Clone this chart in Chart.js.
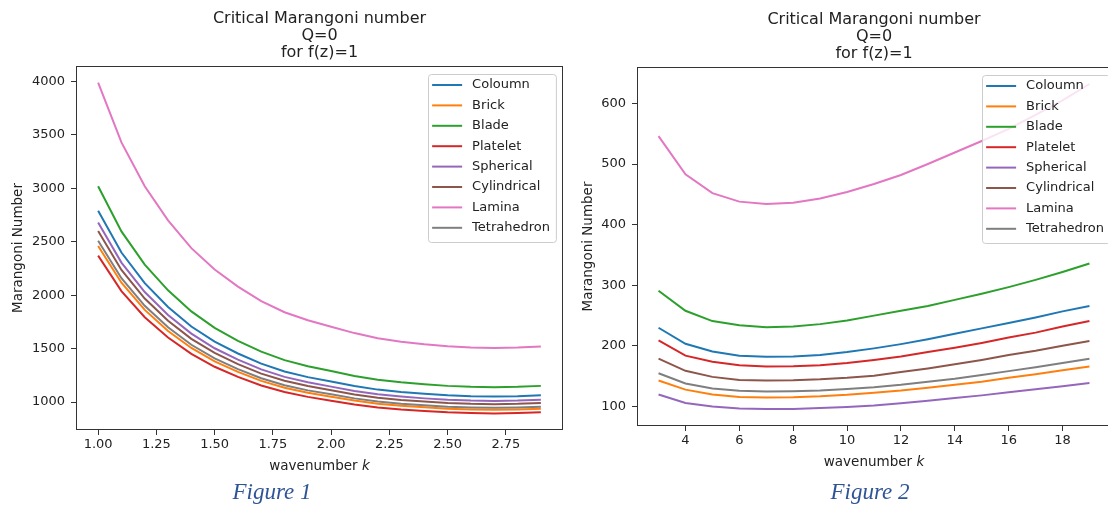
<!DOCTYPE html>
<html>
<head>
<meta charset="utf-8">
<script src="https://cdn.jsdelivr.net/npm/chart.js@4.4.0/dist/chart.umd.min.js"></script>
<style>
  html, body { margin: 0; padding: 0; background: #fff; }
  body { width: 1108px; height: 505px; overflow: hidden; position: relative; }
  .fig { position: absolute; top: 0; }
  .caption {
    position: absolute; top: 477px; width: 200px; text-align: center;
    font-family: "Liberation Serif", serif; font-style: italic; font-size: 23px;
    line-height: 30px; color: #2F5496;
  }
</style>
</head>
<body>
<div class="fig" style="left:0;width:580px;height:480px"><canvas id="fig1" width="580" height="480"></canvas></div>
<div class="fig" style="left:580px;width:540px;height:480px"><canvas id="fig2" width="540" height="480"></canvas></div>
<div class="caption" style="left:172px">Figure 1</div>
<div class="caption" style="left:770px">Figure 2</div>
<script>
// ---- data ----
const seriesNames = ['Coloumn', 'Brick', 'Blade', 'Platelet', 'Spherical', 'Cylindrical', 'Lamina', 'Tetrahedron'];
const seriesColors = ['#1f77b4', '#ff7f0e', '#2ca02c', '#d62728', '#9467bd', '#8c564b', '#e377c2', '#7f7f7f'];
const titleLines = ['Critical Marangoni number', 'Q=0', 'for f(z)=1'];

// Figure 1: k = 1.0 .. 2.9
const kFig1 = [1.0, 1.1, 1.2, 1.3, 1.4, 1.5, 1.6, 1.7, 1.8, 1.9, 2.0, 2.1, 2.2, 2.3, 2.4, 2.5, 2.6, 2.7, 2.8, 2.9];
const fig1Coloumn = [2790, 2399, 2112, 1889, 1707, 1565, 1454, 1359, 1286, 1233, 1191, 1149, 1116, 1094, 1077, 1063, 1055, 1052, 1055, 1063];
const fig1Brick = [2460, 2116, 1862, 1665, 1506, 1380, 1282, 1198, 1134, 1087, 1050, 1014, 984, 964, 950, 937, 930, 927, 930, 937];
const fig1Blade = [3020, 2597, 2286, 2045, 1848, 1694, 1573, 1471, 1392, 1335, 1290, 1244, 1208, 1184, 1166, 1151, 1142, 1139, 1142, 1151];
const fig1Platelet = [2370, 2038, 1794, 1604, 1450, 1330, 1235, 1154, 1093, 1048, 1012, 976, 948, 929, 915, 903, 896, 893, 896, 903];
const fig1Spherical = [2680, 2305, 2029, 1814, 1640, 1503, 1396, 1305, 1235, 1185, 1144, 1104, 1072, 1051, 1034, 1021, 1013, 1010, 1013, 1021];
const fig1Cylindrical = [2600, 2236, 1968, 1760, 1591, 1459, 1355, 1266, 1199, 1149, 1110, 1071, 1040, 1019, 1004, 991, 983, 980, 983, 991];
const fig1Lamina = [3990, 3430, 3020, 2700, 2440, 2240, 2080, 1945, 1840, 1765, 1705, 1645, 1597, 1565, 1540, 1522, 1510, 1506, 1510, 1520];
const fig1Tetrahedron = [2510, 2159, 1900, 1699, 1536, 1408, 1308, 1222, 1157, 1109, 1072, 1034, 1004, 984, 969, 956, 949, 946, 949, 956];
const fig1XTicks = [1.00, 1.25, 1.50, 1.75, 2.00, 2.25, 2.50, 2.75];
const fig1YTicks = [1000, 1500, 2000, 2500, 3000, 3500, 4000];

// Figure 2: k = 3 .. 19
const kFig2 = [3, 4, 5, 6, 7, 8, 9, 10, 11, 12, 13, 14, 15, 16, 17, 18, 19];
const fig2Coloumn = [230, 203.5, 191, 184, 182, 182.5, 185, 190, 196, 203, 211, 220, 229, 238, 247, 257, 266];
const fig2Brick = [143, 128, 120, 116, 115, 115.5, 117, 119.5, 123, 126.5, 131, 136, 141, 147.5, 153.5, 160, 166];
const fig2Blade = [291, 258, 241, 234, 231, 232, 236, 242, 250, 258, 266, 276, 286, 297, 309, 322, 336];
const fig2Platelet = [209, 184, 174, 168, 166, 166.5, 168, 172, 177, 182.5, 190, 197, 205, 214, 222, 232, 241];
const fig2Spherical = [120, 106, 100, 97, 96, 96, 97.5, 99.5, 102, 105.5, 109.5, 114, 118.5, 123.5, 128.5, 133.5, 139];
const fig2Cylindrical = [179, 159, 149, 144, 143, 143.5, 145, 147.5, 151, 157, 163, 170, 177, 185, 192, 200.5, 208];
const fig2Lamina = [546, 483, 452, 438, 434, 436, 443, 454, 467, 482, 500, 519, 538, 558, 581, 605, 632];
const fig2Tetrahedron = [155, 138, 130, 126, 125, 125.5, 126.5, 129, 132, 136, 141, 146, 152, 158.5, 165, 172, 179];
const fig2XTicks = [4, 6, 8, 10, 12, 14, 16, 18];
const fig2YTicks = [100, 200, 300, 400, 500, 600];

// ---- styling ----
const TEXT = '#222';
const SPINE = '#333';
const FONT = '"DejaVu Sans", sans-serif';

const decorations = {
    id: 'decorations',
    afterDatasetsDraw(chart, args, opts) {
        const { ctx, chartArea: a } = chart;
        ctx.save();

        // frame
        ctx.strokeStyle = SPINE;
        ctx.lineWidth = 1;
        ctx.strokeRect(Math.round(a.left) + 0.5, Math.round(a.top) + 0.5,
            Math.round(a.right - a.left) - 1, Math.round(a.bottom - a.top) - 1);

        const cx = (a.left + a.right) / 2;

        // title
        ctx.fillStyle = TEXT;
        ctx.font = '16px ' + FONT;
        ctx.textAlign = 'center';
        ctx.textBaseline = 'middle';
        titleLines.forEach((t, i) => ctx.fillText(t, cx, a.top - 47 + i * 17));

        // x label with italic k
        ctx.font = '13.5px ' + FONT;
        const w1 = ctx.measureText('wavenumber ').width;
        ctx.font = 'italic 13.5px ' + FONT;
        const w2 = ctx.measureText('k').width;
        const x0 = cx - (w1 + w2) / 2;
        const ly = a.bottom + 36;
        ctx.textAlign = 'left';
        ctx.font = '13.5px ' + FONT;
        ctx.fillText('wavenumber ', x0, ly);
        ctx.font = 'italic 13.5px ' + FONT;
        ctx.fillText('k', x0 + w1, ly);

        // legend
        ctx.font = '13px ' + FONT;
        let tw = 0;
        seriesNames.forEach(n => { tw = Math.max(tw, ctx.measureText(n).width); });
        const bw = 44 + tw + 6;
        const bh = 168;
        const bx = a.right - opts.rightGap - bw;
        const by = a.top + 8;
        ctx.beginPath();
        ctx.roundRect(Math.round(bx) + 0.5, Math.round(by) + 0.5, bw, bh, 3);
        ctx.fillStyle = 'rgba(255,255,255,0.8)';
        ctx.fill();
        ctx.strokeStyle = '#cccccc';
        ctx.stroke();
        ctx.textBaseline = 'middle';
        seriesNames.forEach((n, i) => {
            const y = by + 11 + i * 20.4;
            ctx.strokeStyle = seriesColors[i];
            ctx.lineWidth = 2;
            ctx.beginPath();
            ctx.moveTo(bx + 4, y);
            ctx.lineTo(bx + 34, y);
            ctx.stroke();
            ctx.fillStyle = TEXT;
            ctx.fillText(n, bx + 44, y);
        });
        ctx.restore();
    }
};

function makeChart(canvasId, cfg) {
    const datasets = cfg.series.map((vals, i) => ({
        label: seriesNames[i],
        data: cfg.k.map((k, j) => ({ x: k, y: vals[j] })),
        borderColor: seriesColors[i],
        backgroundColor: seriesColors[i],
        borderWidth: 2,
        pointRadius: 0,
        tension: 0,
        fill: false,
        order: seriesNames.length - i
    }));

    return new Chart(document.getElementById(canvasId), {
        type: 'line',
        data: { datasets },
        plugins: [decorations],
        options: {
            responsive: false,
            animation: false,
            events: [],
            layout: { padding: { top: cfg.top, right: cfg.padRight, left: 0, bottom: 0 } },
            plugins: {
                legend: { display: false },
                tooltip: { enabled: false },
                decorations: { rightGap: cfg.legendGap }
            },
            scales: {
                x: {
                    type: 'linear',
                    min: cfg.xMin,
                    max: cfg.xMax,
                    afterFit: s => { s.height = cfg.xHeight; },
                    afterBuildTicks: s => { s.ticks = cfg.xTicks.map(v => ({ value: v })); },
                    grid: { drawOnChartArea: false, drawTicks: true, tickLength: 5, color: SPINE },
                    border: { display: false },
                    ticks: {
                        color: TEXT,
                        font: { family: FONT, size: 13 },
                        padding: 2,
                        maxRotation: 0,
                        autoSkip: false,
                        callback: v => cfg.xFormat(v)
                    }
                },
                y: {
                    type: 'linear',
                    min: cfg.yMin,
                    max: cfg.yMax,
                    afterFit: s => { s.width = cfg.yWidth; },
                    afterBuildTicks: s => { s.ticks = cfg.yTicks.map(v => ({ value: v })); },
                    grid: { drawOnChartArea: false, drawTicks: true, tickLength: 5, color: SPINE },
                    border: { display: false },
                    ticks: {
                        color: TEXT,
                        font: { family: FONT, size: 13 },
                        padding: 6,
                        autoSkip: false,
                        callback: v => String(v)
                    },
                    title: {
                        display: true,
                        text: 'Marangoni Number',
                        color: TEXT,
                        font: { family: FONT, size: 13.5 },
                        padding: { top: cfg.yTitlePad, bottom: 0 }
                    }
                }
            }
        }
    });
}

makeChart('fig1', {
    k: kFig1,
    series: [fig1Coloumn, fig1Brick, fig1Blade, fig1Platelet, fig1Spherical, fig1Cylindrical, fig1Lamina, fig1Tetrahedron],
    xMin: 0.905, xMax: 2.995, yMin: 738, yMax: 4145,
    xTicks: fig1XTicks, yTicks: fig1YTicks,
    xFormat: v => v.toFixed(2),
    top: 66, padRight: 17, xHeight: 50, yWidth: 76, yTitlePad: 10, legendGap: 7
});

makeChart('fig2', {
    k: kFig2,
    series: [fig2Coloumn, fig2Brick, fig2Blade, fig2Platelet, fig2Spherical, fig2Cylindrical, fig2Lamina, fig2Tetrahedron],
    xMin: 2.2, xMax: 19.8, yMin: 68, yMax: 660,
    xTicks: fig2XTicks, yTicks: fig2YTicks,
    xFormat: v => String(v),
    top: 67, padRight: 9, xHeight: 54, yWidth: 57, yTitlePad: 0, legendGap: 1
});
</script>
</body>
</html>
